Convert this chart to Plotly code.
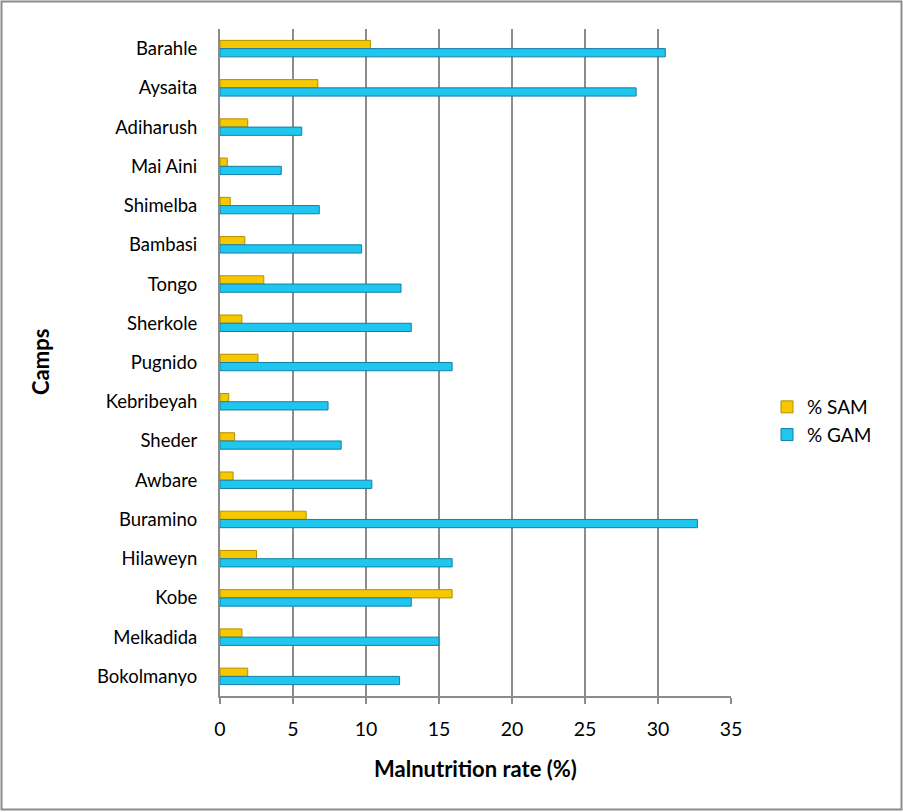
import plotly.graph_objects as go

camps = ["Barahle", "Aysaita", "Adiharush", "Mai Aini", "Shimelba", "Bambasi", "Tongo",
         "Sherkole", "Pugnido", "Kebribeyah", "Sheder", "Awbare", "Buramino", "Hilaweyn",
         "Kobe", "Melkadida", "Bokolmanyo"]
sam = [10.3, 6.7, 1.9, 0.5, 0.7, 1.7, 3.0, 1.5, 2.6, 0.6, 1.0, 0.9, 5.9, 2.5, 15.9, 1.5, 1.9]
gam = [30.5, 28.5, 5.6, 4.2, 6.8, 9.7, 12.4, 13.1, 15.9, 7.4, 8.3, 10.4, 32.7, 15.9, 13.1, 15.0, 12.3]
x_ticks = [0, 5, 10, 15, 20, 25, 30, 35]

W, H = 903, 812
L, R, T, B = 220, 731, 29, 696
FONT = "Lato, 'Open Sans', sans-serif"

def px_x(p):
    return (p - L) / (R - L)

def px_y(p):
    return (B - p) / (B - T)

fig = go.Figure()
fig.add_trace(go.Bar(
    y=camps, x=sam, name="% SAM", orientation="h",
    marker=dict(color="#F5C800", line=dict(color="#B88E00", width=1)),
))
fig.add_trace(go.Bar(
    y=camps, x=gam, name="% GAM", orientation="h",
    marker=dict(color="#1FC6EE", line=dict(color="#157FA8", width=1)),
))

fig.update_layout(
    width=W, height=H,
    margin=dict(l=L, r=W - R, t=T, b=H - B),
    paper_bgcolor="white", plot_bgcolor="white",
    barmode="group", bargap=0.58, bargroupgap=0,
    font=dict(family=FONT, size=18, color="black"),
    showlegend=True,
    legend=dict(x=px_x(767), y=px_y(388), xanchor="left", yanchor="top",
                traceorder="normal", font=dict(size=19, family=FONT),
                itemwidth=30, tracegroupgap=0, bgcolor="rgba(0,0,0,0)"),
    xaxis=dict(range=[0, 35], tickvals=x_ticks, showgrid=True, gridcolor="#8C8C8C",
               gridwidth=1.5, showline=True, linecolor="#8C8C8C", linewidth=2,
               ticks="outside", ticklen=6, tickcolor="#8C8C8C", tickwidth=1.5,
               ticklabelstandoff=9,
               tickfont=dict(size=19.5, family=FONT), zeroline=False, fixedrange=True),
    yaxis=dict(autorange="reversed", showgrid=False, showline=True, linecolor="#8C8C8C",
               linewidth=2, ticks="", ticklabelstandoff=17,
               tickfont=dict(size=18.5, family=FONT), fixedrange=True),
    annotations=[
        dict(text="<b>Malnutrition rate (%)</b>", xref="paper", yref="paper",
             x=px_x(475), y=px_y(768), showarrow=False, font=dict(size=22, family=FONT),
             xanchor="center", yanchor="middle"),
        dict(text="<b>Camps</b>", xref="paper", yref="paper", textangle=-90,
             x=px_x(40), y=px_y(362), showarrow=False, font=dict(size=22, family=FONT),
             xanchor="center", yanchor="middle"),
    ],
    shapes=[
        dict(type="rect", xref="paper", yref="paper",
             x0=px_x(1.5), x1=px_x(901.5), y0=px_y(1.5), y1=px_y(809.5),
             line=dict(color="#8C8C8C", width=2), fillcolor="rgba(0,0,0,0)", layer="below"),
    ],
)

fig.write_html("out.html", config={"displayModeBar": False},
               post_script="document.body.style.margin='0';")
